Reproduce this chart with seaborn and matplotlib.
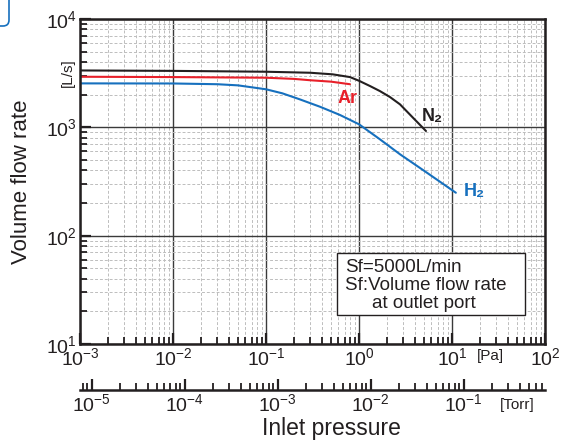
import matplotlib
matplotlib.use("Agg")
import matplotlib.pyplot as plt
import matplotlib.ticker as mticker
from matplotlib.patches import FancyBboxPatch, Rectangle
import seaborn as sns
import pandas as pd
import numpy as np

sns.set_style("white")
plt.rcParams['font.family'] = ['Liberation Sans', 'DejaVu Sans']
plt.rcParams['mathtext.default'] = 'regular'

# values (pressure in Pa, flow in L/s)
pa_n2 = [1e-3, 0.01, 0.1, 0.3, 0.52, 0.8, 1.0, 1.32, 1.68, 2.16, 2.76, 3.83, 5.25]
flow_n2 = [3350, 3320, 3260, 3190, 3085, 2910, 2690, 2400, 2160, 1900, 1630, 1220, 925]
pa_ar = [1e-3, 0.01, 0.1, 0.2, 0.3, 0.5, 0.8]
flow_ar = [2930, 2910, 2870, 2800, 2720, 2640, 2500]
pa_h2 = [1e-3, 0.01, 0.03, 0.05, 0.1, 0.15, 0.23, 0.38, 0.625, 1.0, 1.68, 2.76, 5.5, 11.0]
flow_h2 = [2545, 2540, 2500, 2440, 2245, 2060, 1815, 1550, 1300, 1067, 775, 564, 376, 249]

gases = ['N₂', 'Ar', 'H₂']
colors = {'N₂': '#231f20', 'Ar': '#e8202a', 'H₂': '#1670be'}
torr_ticks = [1e-5, 1e-4, 1e-3, 1e-2, 1e-1]

df = pd.concat([
    pd.DataFrame({'Pressure': pa_n2, 'Flow': flow_n2, 'Gas': 'N₂'}),
    pd.DataFrame({'Pressure': pa_ar, 'Flow': flow_ar, 'Gas': 'Ar'}),
    pd.DataFrame({'Pressure': pa_h2, 'Flow': flow_h2, 'Gas': 'H₂'}),
])

fig = plt.figure(figsize=(5.76, 4.43), dpi=100)
ax = fig.add_axes([80/576, 1-344/443, 465/576, 325/443])

sns.lineplot(data=df, x='Pressure', y='Flow', hue='Gas', hue_order=gases,
             palette=colors, linewidth=1.5, legend=False, ax=ax)
ax.set_xscale('log')
ax.set_yscale('log')
ax.set_xlim(1e-3, 1e2)
ax.set_ylim(1e1, 1e4)

# grid
ax.grid(which='major', color='#3a3a3a', linewidth=1.0, linestyle='-')
ax.grid(which='minor', color='#bdbdbd', linewidth=0.7, linestyle=(0, (3, 2)))
ax.xaxis.set_minor_locator(mticker.LogLocator(base=10, subs=np.arange(2, 10), numticks=20))
ax.yaxis.set_minor_locator(mticker.LogLocator(base=10, subs=np.arange(2, 10), numticks=20))
ax.xaxis.set_minor_formatter(mticker.NullFormatter())
ax.yaxis.set_minor_formatter(mticker.NullFormatter())

for s in ax.spines.values():
    s.set_color('#231f20')
    s.set_linewidth(1.8)
ax.tick_params(which='both', direction='in', bottom=True, left=True, top=False, right=False,
               color='#231f20', labelsize=14, labelcolor='#231f20')
ax.tick_params(which='major', length=8, width=1.6, pad=2)
ax.tick_params(which='minor', length=5, width=1.3)
ax.set_xlabel('')
ax.set_ylabel('')

# labels on curves
ax.text(0.76, 1860, 'Ar', color=colors['Ar'], fontsize=13, fontweight='bold', ha='center', va='center')
ax.text(6.1, 1270, 'N₂', color=colors['N₂'], fontsize=13, fontweight='bold', ha='center', va='center')
ax.text(17.3, 258, 'H₂', color=colors['H₂'], fontsize=13, fontweight='bold', ha='center', va='center')

# annotation box
ax.add_patch(Rectangle((257/465, 29/325), 188/465, 62/325, transform=ax.transAxes,
                       facecolor='white', edgecolor='#231f20', linewidth=1.0, zorder=5))
box_lines = ['Sf=5000L/min', 'Sf:Volume flow rate', 'at outlet port']
box_x = [265, 265, 292]
box_y = [76, 58, 41]
for line, bx, by in zip(box_lines, box_x, box_y):
    ax.text(bx/465, by/325, line, transform=ax.transAxes, fontsize=13.5,
            color='#231f20', ha='left', va='center', zorder=6)

# unit labels
ax.text(-0.027, 0.835, '[L/s]', transform=ax.transAxes, rotation=90, fontsize=11,
        ha='center', va='center', color='#231f20')
ax.text(0.882, -0.037, '[Pa]', transform=ax.transAxes, fontsize=11,
        ha='center', va='center', color='#231f20')

# Torr axis underneath
torr = ax.secondary_xaxis(-0.142, functions=(lambda p: p / 133.322, lambda t: t * 133.322))
torr.spines['bottom'].set_linewidth(1.8)
torr.spines['bottom'].set_color('#231f20')
torr.xaxis.set_major_locator(mticker.FixedLocator(torr_ticks))
torr.xaxis.set_major_formatter(mticker.LogFormatterSciNotation())
torr.xaxis.set_minor_locator(mticker.LogLocator(base=10, subs=np.arange(2, 10), numticks=20))
torr.xaxis.set_minor_formatter(mticker.NullFormatter())
torr.tick_params(which='both', direction='in', color='#231f20', labelsize=14, labelcolor='#231f20')
torr.tick_params(which='major', length=8, width=1.6, pad=2)
torr.tick_params(which='minor', length=5, width=1.3)
ax.text(0.94, -0.188, '[Torr]', transform=ax.transAxes, fontsize=11,
        ha='center', va='center', color='#231f20')

fig.text(22/576, 1-182/443, 'Volume flow rate', rotation=90, fontsize=16,
         ha='center', va='center', color='#231f20')
fig.text(331/576, 1-428/443, 'Inlet pressure', fontsize=16.5,
         ha='center', va='center', color='#231f20')

# partial rounded box at the upper left corner
fig.patches.append(FancyBboxPatch((-25, 443-26), 34, 40, boxstyle='round,pad=0,rounding_size=6',
                                  transform=None, facecolor='none', edgecolor='#1670be',
                                  linewidth=1.2, figure=fig))

fig.savefig('out.png', dpi=100)
